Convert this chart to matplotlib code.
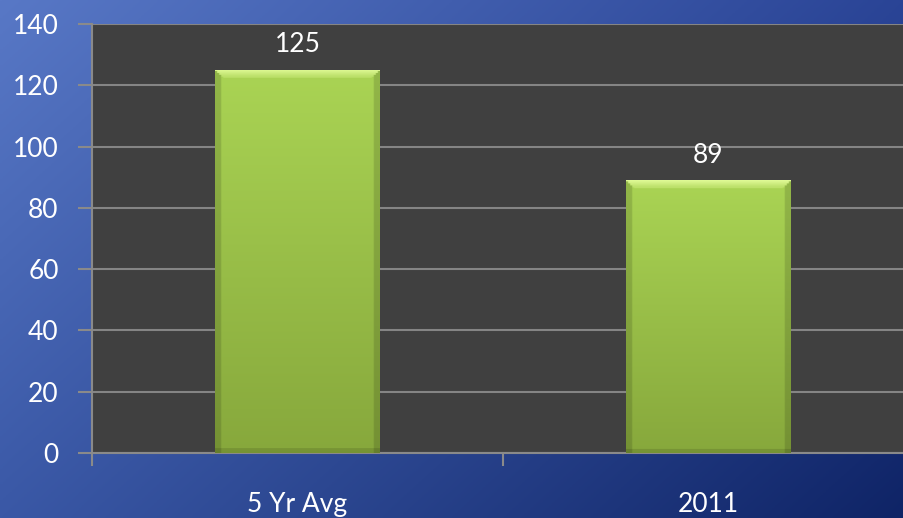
import numpy as np
import matplotlib
matplotlib.use("Agg")
import matplotlib.pyplot as plt
from matplotlib.colors import to_rgb

plt.rcParams['font.family'] = ['Lato', 'DejaVu Sans']

categories = ['5 Yr Avg', '2011']
values = [125, 89]
y_ticks = [0, 20, 40, 60, 80, 100, 120, 140]

fig = plt.figure(figsize=(9.04, 5.18), dpi=100)

# фон - диагональный градиент
bg = fig.add_axes([0, 0, 1, 1], zorder=-10)
tl, tr = np.array(to_rgb('#5878c6')), np.array(to_rgb('#2a4496'))
bl, br = np.array(to_rgb('#3a58a6')), np.array(to_rgb('#0f2466'))
u = np.linspace(0, 1, 300)[None, :, None]
v = np.linspace(0, 1, 200)[:, None, None]
img = (1 - v) * ((1 - u) * tl + u * tr) + v * ((1 - u) * bl + u * br)
bg.imshow(img, aspect='auto', extent=[0, 1, 0, 1])
bg.axis('off')

ax = fig.add_axes([92 / 904, 1 - 453 / 518, 822 / 904, 429 / 518])
ax.set_facecolor('#404040')

x = np.arange(len(categories))
bars = ax.bar(x, values, width=0.4, color='#a3cb4c', zorder=3)

# градиент и фаска на столбцах
px_per_unit = 429 / 140
for b in bars:
    x0, y0 = b.get_x(), b.get_y()
    w, h = b.get_width(), b.get_height()
    ny, nx = 400, 80
    wp, hp = w * 411, h * px_per_unit
    tp, sp = np.meshgrid(np.linspace(0, hp, ny), np.linspace(0, wp, nx), indexing='ij')
    top = np.array(to_rgb('#aad454'))
    bot = np.array(to_rgb('#87a83c'))
    col = (1 - tp / hp)[:, :, None] * top + (tp / hp)[:, :, None] * bot
    # фаска сверху
    bevel = (tp < 8) & (tp < sp + 1) & (tp < wp - sp + 1)
    hl = np.array(to_rgb('#e0fa96'))
    k = np.clip(1 - tp / 10, 0.35, 1)[:, :, None]
    blend = hl * k + col * (1 - k)
    col[bevel] = blend[bevel]
    side = ((sp < 5) | (sp > wp - 5)) & ~bevel
    col[side] = col[side] * 0.86
    bot_m = tp > hp - 4
    col[bot_m] = col[bot_m] * 0.88
    im = ax.imshow(col, extent=[x0, x0 + w, y0, y0 + h], aspect='auto', zorder=4)
    im.set_clip_path(b)
    ax.annotate(str(int(h)), (x0 + w / 2, h), xytext=(0, 9), textcoords='offset points',
                ha='center', va='bottom', color='white', fontsize=19, zorder=5)

ax.set_xlim(-0.5, 1.5)
ax.set_ylim(0, 140)
ax.set_yticks(y_ticks)
ax.set_yticklabels([str(t) for t in y_ticks])
ax.yaxis.grid(True, color='#858585', linewidth=1.5, zorder=1)
ax.set_axisbelow(True)

ax.set_xticks(x)
ax.set_xticklabels(categories)
ax.set_xticks([-0.5, 0.5, 1.5], minor=True)
ax.tick_params(axis='x', which='major', length=0, pad=28, labelsize=19, labelcolor='white')
ax.tick_params(axis='x', which='minor', length=9, width=1.5, color='#8a8a8a')
ax.tick_params(axis='y', length=10, width=1.5, color='#8a8a8a', pad=14, labelsize=19, labelcolor='white')

for side in ['top', 'right']:
    ax.spines[side].set_visible(False)
for side in ['left', 'bottom']:
    ax.spines[side].set_color('#8a8a8a')
    ax.spines[side].set_linewidth(1.5)

fig.savefig('out.png', dpi=100)
